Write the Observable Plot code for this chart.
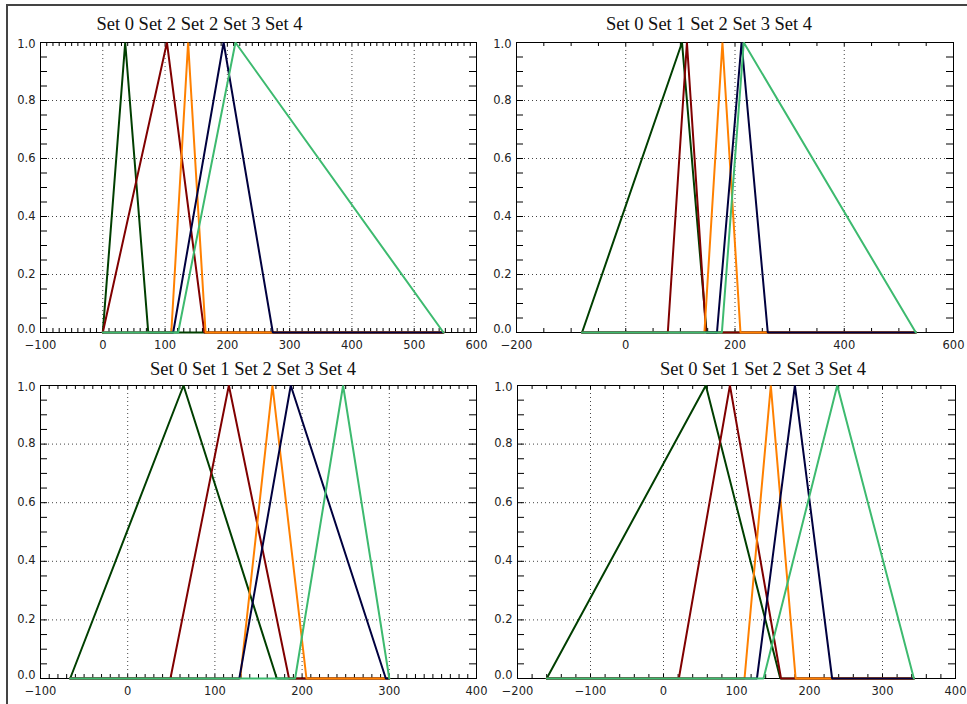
<!DOCTYPE html>
<html>
<head>
<meta charset="utf-8">
<script src="https://cdn.jsdelivr.net/npm/d3@7"></script>
<script src="https://cdn.jsdelivr.net/npm/@observablehq/plot@0.6"></script>
<style>
  html, body { margin: 0; padding: 0; background: #fff; }
  #page { position: relative; width: 967px; height: 704px; overflow: hidden; background: #fff; }
  #border { position: absolute; left: 6px; top: 4px; right: -10px; bottom: -10px; border-left: 2px solid #444; border-top: 2px solid #444; }
  .panel { position: absolute; }
  .title { position: absolute; font-family: "Liberation Serif", "Times New Roman", serif; font-size: 18.5px; line-height: 18.5px; color: #111; white-space: nowrap; transform: translateX(-50%); }
</style>
</head>
<body>
<div id="page"><div id="border"></div></div>
<script>
// ---- data: triangular membership functions (start, peak, end) per set ----
const setNames = ["Set 0", "Set 1", "Set 2", "Set 3", "Set 4"];
const setColors = ["#003f00", "#800000", "#ff8000", "#00003f", "#3dba6f"];

const titles = [
  "Set 0 Set 2 Set 2 Set 3 Set 4",
  "Set 0 Set 1 Set 2 Set 3 Set 4",
  "Set 0 Set 1 Set 2 Set 3 Set 4",
  "Set 0 Set 1 Set 2 Set 3 Set 4"
];

// panel 1 (top-left)
const p1Start = [0, 0, 110, 113, 121];
const p1Peak  = [36, 103, 137, 194, 213];
const p1End   = [73, 163, 165, 273, 547];
// panel 2 (top-right)
const p2Start = [-80, 77, 144, 167, 176];
const p2Peak  = [103, 112, 177, 212, 216];
const p2End   = [148, 147, 210, 260, 531];
// panel 3 (bottom-left)
const p3Start = [-66, 49, 129, 128, 192];
const p3Peak  = [64, 116, 166, 187, 247];
const p3End   = [171, 185, 205, 296, 300];
// panel 4 (bottom-right)
const p4Start = [-160, 21, 111, 128, 137];
const p4Peak  = [58, 91, 147, 180, 238];
const p4End   = [160, 161, 181, 231, 343];

// axis tick labels
const p1XTicks = [-100, 0, 100, 200, 300, 400, 500, 600];
const p2XTicks = [-200, 0, 200, 400, 600];
const p3XTicks = [-100, 0, 100, 200, 300, 400];
const p4XTicks = [-200, -100, 0, 100, 200, 300, 400];
const yTicks = [0, 0.2, 0.4, 0.6, 0.8, 1.0];
const yGrid = [0.2, 0.4, 0.6, 0.8];

function panel(cfg) {
  const {left, top, width, height, mL, mR, mT, mB, xDomain, xTicks, xMinorStep,
         starts, peaks, ends, title, titleX, titleY} = cfg;
  const plotW = width - mL - mR, plotH = height - mT - mB;
  const xMin = d3.min(starts), xMax = d3.max(ends);
  const minor = d3.range(xDomain[0], xDomain[1] + 1e-9, xMinorStep);
  const yMinor = d3.range(0, 1.0001, 0.05).map(v => +v.toFixed(2));
  const grid = xTicks.filter(v => v > xDomain[0] && v < xDomain[1]);
  const yFmt = d3.format(".1f");
  const yLo = d3.min(yTicks), yHi = d3.max(yTicks);

  const lineMarks = setNames.map((name, i) => {
    const pts = [
      {x: xMin, y: 0}, {x: starts[i], y: 0}, {x: peaks[i], y: 1},
      {x: ends[i], y: 0}, {x: xMax, y: 0}
    ];
    return Plot.line(pts, {x: "x", y: "y", stroke: setColors[i], strokeWidth: 2, strokeLinejoin: "miter"});
  });

  const axisFont = 11.5;
  const chart = Plot.plot({
    width, height,
    marginLeft: mL, marginRight: mR, marginTop: mT, marginBottom: mB,
    style: {overflow: "visible", background: "transparent", fontFamily: "DejaVu Sans, sans-serif", fontSize: axisFont + "px", color: "#222"},
    x: {domain: xDomain, label: null},
    y: {domain: [0, 1], label: null},
    marks: [
      Plot.ruleX(grid, {stroke: "#444", strokeWidth: 1, strokeDasharray: "1,3"}),
      Plot.ruleY(yGrid, {stroke: "#444", strokeWidth: 1, strokeDasharray: "1,3"}),
      Plot.frame({stroke: "#000", strokeWidth: 1}),
      Plot.tickX(minor, {x: d => d, stroke: "#000", insetTop: plotH - 4}),
      Plot.tickX(minor, {x: d => d, stroke: "#000", insetBottom: plotH - 4}),
      Plot.tickY(yMinor, {y: d => d, stroke: "#000", insetRight: plotW - 7}),
      Plot.tickY(yMinor, {y: d => d, stroke: "#000", insetLeft: plotW - 7}),
      Plot.axisX(xTicks, {tickSize: 0, tickPadding: 8, label: null, fontSize: axisFont}),
      Plot.axisY(yTicks.filter(v => v > yLo && v < yHi), {tickSize: 0, tickPadding: 5, label: null, fontSize: axisFont, tickFormat: yFmt, dy: -0.5}),
      Plot.axisY([yLo], {tickSize: 0, tickPadding: 5, label: null, fontSize: axisFont, tickFormat: yFmt, dy: -3.5}),
      Plot.axisY([yHi], {tickSize: 0, tickPadding: 5, label: null, fontSize: axisFont, tickFormat: yFmt, dy: 1.5}),
      ...lineMarks
    ]
  });
  chart.classList.add("panel");
  chart.style.left = left + "px";
  chart.style.top = top + "px";
  const page = document.getElementById("page");
  page.appendChild(chart);
  const t = document.createElement("div");
  t.className = "title";
  t.textContent = title;
  t.style.left = titleX + "px";
  t.style.top = (titleY - 15.5) + "px";
  page.appendChild(t);
}

panel({left: 0, top: 0, width: 483, height: 352, mL: 40, mR: 7, mT: 42, mB: 20,
  xDomain: [-100, 600], xTicks: p1XTicks, xMinorStep: 10,
  starts: p1Start, peaks: p1Peak, ends: p1End, title: titles[0], titleX: 199.5, titleY: 30.5});
panel({left: 483, top: 0, width: 484, height: 352, mL: 33, mR: 14, mT: 42, mB: 20,
  xDomain: [-200, 600], xTicks: p2XTicks, xMinorStep: 50,
  starts: p2Start, peaks: p2Peak, ends: p2End, title: titles[1], titleX: 709, titleY: 30.5});
panel({left: 0, top: 352, width: 483, height: 352, mL: 40, mR: 7, mT: 33, mB: 26,
  xDomain: [-100, 400], xTicks: p3XTicks, xMinorStep: 10,
  starts: p3Start, peaks: p3Peak, ends: p3End, title: titles[2], titleX: 253, titleY: 375});
panel({left: 483, top: 352, width: 484, height: 352, mL: 34, mR: 12, mT: 33, mB: 26,
  xDomain: [-200, 400], xTicks: p4XTicks, xMinorStep: 20,
  starts: p4Start, peaks: p4Peak, ends: p4End, title: titles[3], titleX: 763, titleY: 375});
</script>
</body>
</html>
